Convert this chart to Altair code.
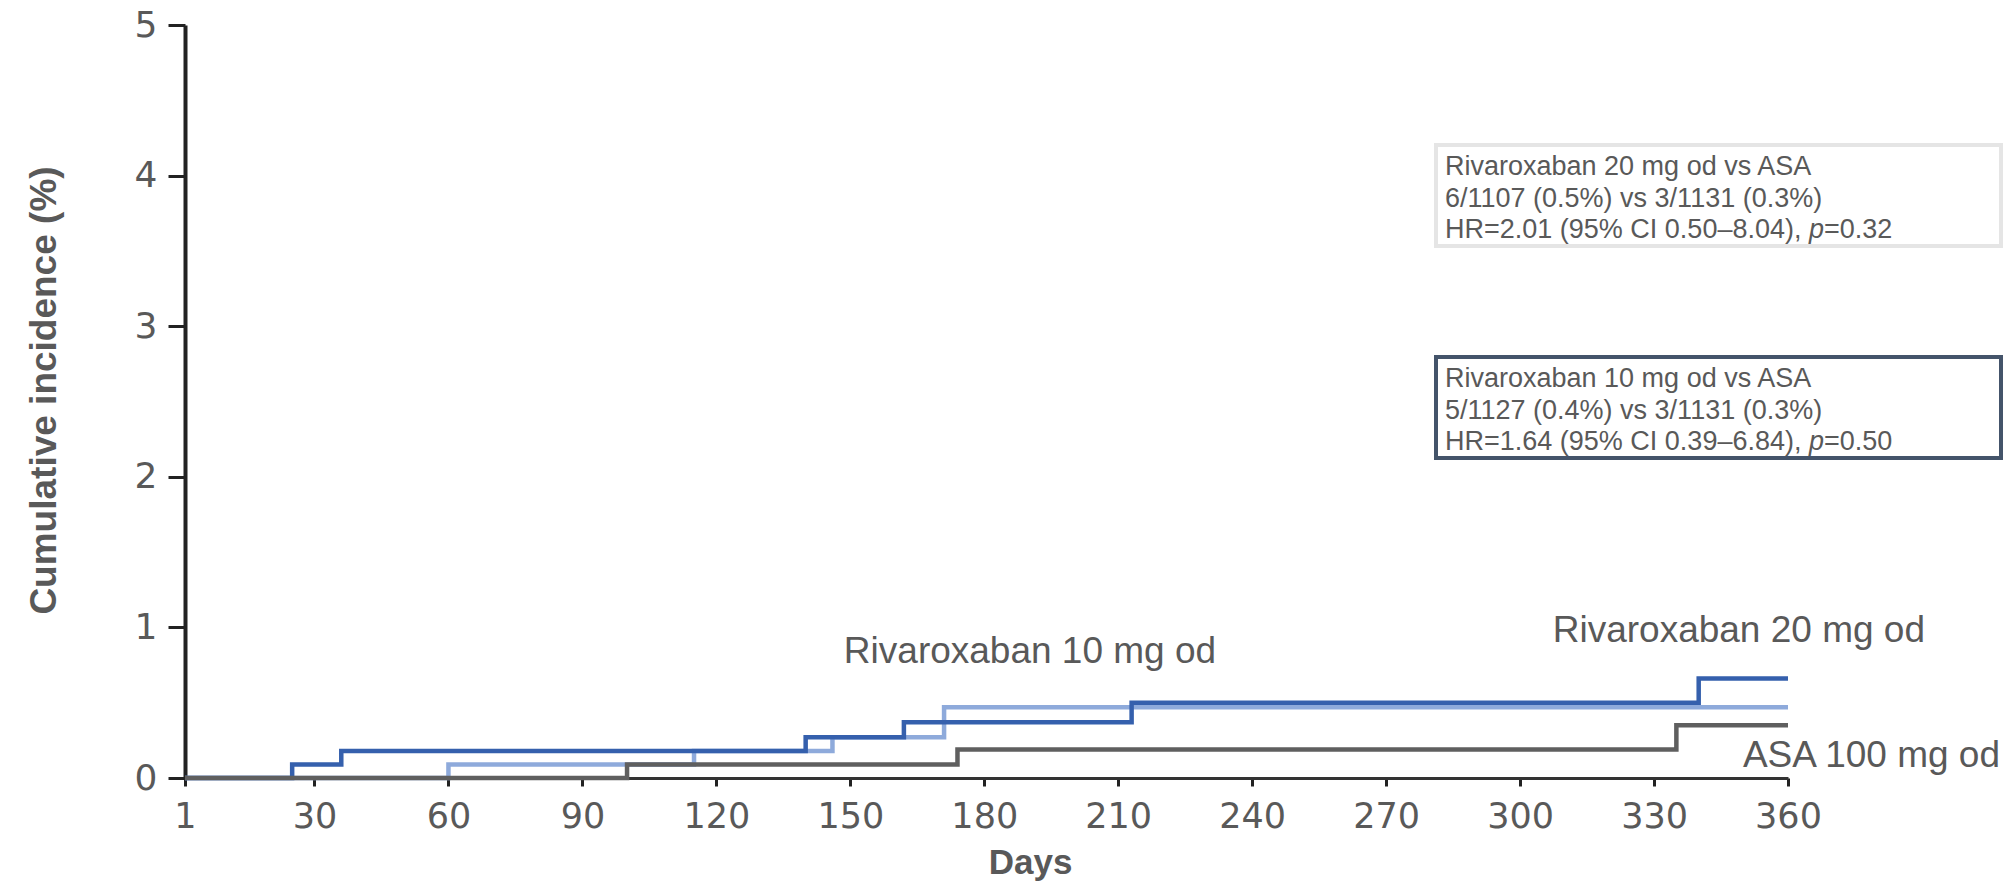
import altair as alt
import pandas as pd

# Cumulative incidence step points (day, %) for each arm
days_r20 = [1, 25, 36, 140, 162, 213, 340, 360]
inc_r20 = [0, 0.09, 0.18, 0.27, 0.37, 0.50, 0.66, 0.66]
days_r10 = [1, 60, 115, 146, 171, 360]
inc_r10 = [0, 0.09, 0.18, 0.27, 0.47, 0.47]
days_asa = [1, 100, 174, 335, 360]
inc_asa = [0, 0.09, 0.19, 0.35, 0.35]

arms = ["Rivaroxaban 10 mg od", "Rivaroxaban 20 mg od", "ASA 100 mg od"]
arm_colors = ["#8eaadb", "#3560ad", "#5f5f5f"]

x_ticks = [1, 30, 60, 90, 120, 150, 180, 210, 240, 270, 300, 330, 360]
y_ticks = [0, 0.5, 1, 1.5, 2, 2.5, 3, 3.5, 4, 4.5, 5]

box_20 = ["Rivaroxaban 20 mg od vs ASA", "6/1107 (0.5%) vs 3/1131 (0.3%)",
          "HR=2.01 (95% CI 0.50\u20138.04), ", "=0.32"]
box_10 = ["Rivaroxaban 10 mg od vs ASA", "5/1127 (0.4%) vs 3/1131 (0.3%)",
          "HR=1.64 (95% CI 0.39\u20136.84), ", "=0.50"]

FONT = "Liberation Sans"
TICK_FONT = "DejaVu Sans"
TXT = "#595959"

frames = []
for arm, d, v in zip(arms, [days_r10, days_r20, days_asa], [inc_r10, inc_r20, inc_asa]):
    frames.append(pd.DataFrame({"arm": arm, "day": d, "inc": v}))
df = pd.concat(frames, ignore_index=True)

x_scale = alt.Scale(domain=[1, 360], nice=False, zero=False)
y_scale = alt.Scale(domain=[0, 5], nice=False)

x_axis = alt.Axis(
    values=x_ticks, title="Days", labelFontSize=35, labelColor=TXT, labelFont=TICK_FONT,
    labelPadding=13, tickSize=8, tickWidth=3, tickColor="#222222",
    domainColor="#333333", domainWidth=3, grid=False, labelFlush=False,
    titleFont=FONT, titleFontSize=35, titleFontWeight="bold", titleColor=TXT,
    titleX=845, titleY=95, titleBaseline="alphabetic", titleAlign="center",
)
# half-unit ticks, labels on whole units only
y_axis = alt.Axis(
    values=y_ticks, title="Cumulative incidence (%)", format="d",
    labelExpr="datum.value % 1 === 0 ? datum.label : ''",
    labelFontSize=36, labelColor=TXT, labelFont=TICK_FONT, labelPadding=11,
    tickSize=17, tickWidth=3, tickColor="#222222",
    domainColor="#222222", domainWidth=4, grid=False, labelFlush=False,
    titleFont=FONT, titleFontSize=37, titleFontWeight="bold", titleColor=TXT,
    titleAngle=270, titleX=-130, titleY=365, titleBaseline="alphabetic",
    titleAlign="center",
)


def arm_line(i):
    return (
        alt.Chart(df)
        .transform_filter(alt.datum.arm == arms[i])
        .mark_line(interpolate="step-after", strokeWidth=4.5, color=arm_colors[i])
        .encode(
            x=alt.X("day:Q", scale=x_scale, axis=x_axis),
            y=alt.Y("inc:Q", scale=y_scale, axis=y_axis),
        )
    )


lines = [arm_line(0), arm_line(1), arm_line(2)]

# Arm labels placed near their curves
labels_df = pd.DataFrame({"text": arms})
lab_10 = alt.Chart(labels_df).transform_filter(alt.datum.text == arms[0]).mark_text(
    font=FONT, fontSize=37, color=TXT, align="center", baseline="alphabetic"
).encode(x=alt.value(845), y=alt.value(637.7), text="text:N")
lab_20 = alt.Chart(labels_df).transform_filter(alt.datum.text == arms[1]).mark_text(
    font=FONT, fontSize=37, color=TXT, align="right", baseline="alphabetic"
).encode(x=alt.value(1740), y=alt.value(616.7), text="text:N")
lab_asa = alt.Chart(labels_df).transform_filter(alt.datum.text == arms[2]).mark_text(
    font=FONT, fontSize=37, color=TXT, align="right", baseline="alphabetic"
).encode(x=alt.value(1815), y=alt.value(741.7), text="text:N")


def stat_box(lines_txt, top, stroke):
    box_df = pd.DataFrame({"k": [0]})
    rect = alt.Chart(box_df).mark_rect(
        fill="#ffffff", stroke=stroke, strokeWidth=4
    ).encode(x=alt.value(1251), x2=alt.value(1816), y=alt.value(top), y2=alt.value(top + 101))
    layers = [rect]
    left = 1260
    base = top + 30
    fs = 27
    for j, t in enumerate(lines_txt[:3]):
        tdf = pd.DataFrame({"t": [t]})
        layers.append(
            alt.Chart(tdf).mark_text(
                font=FONT, fontSize=fs, color=TXT, align="left", baseline="alphabetic"
            ).encode(x=alt.value(left), y=alt.value(base + j * 31.5), text="t:N")
        )
    # italic p-value symbol followed by its value
    p_x = left + 13.479 * fs
    layers.append(
        alt.Chart(pd.DataFrame({"t": ["p"]})).mark_text(
            font=FONT, fontSize=fs, fontStyle="italic", color=TXT, align="left",
            baseline="alphabetic"
        ).encode(x=alt.value(p_x), y=alt.value(base + 63), text="t:N")
    )
    layers.append(
        alt.Chart(pd.DataFrame({"t": [lines_txt[3]]})).mark_text(
            font=FONT, fontSize=fs, color=TXT, align="left", baseline="alphabetic"
        ).encode(x=alt.value(p_x + 0.556 * fs), y=alt.value(base + 63), text="t:N")
    )
    return layers


chart = alt.layer(
    *lines, lab_10, lab_20, lab_asa,
    *stat_box(box_20, 120, "#e5e5e5"),
    *stat_box(box_10, 332, "#44546a"),
).properties(
    width=1603, height=753,
    autosize=alt.AutoSizeParams(type="none"),
    padding={"left": 185, "top": 25, "right": 217, "bottom": 105},
    background="#ffffff",
).configure_view(stroke=None)

chart.save("out.html", embed_options={"renderer": "svg", "actions": False})
